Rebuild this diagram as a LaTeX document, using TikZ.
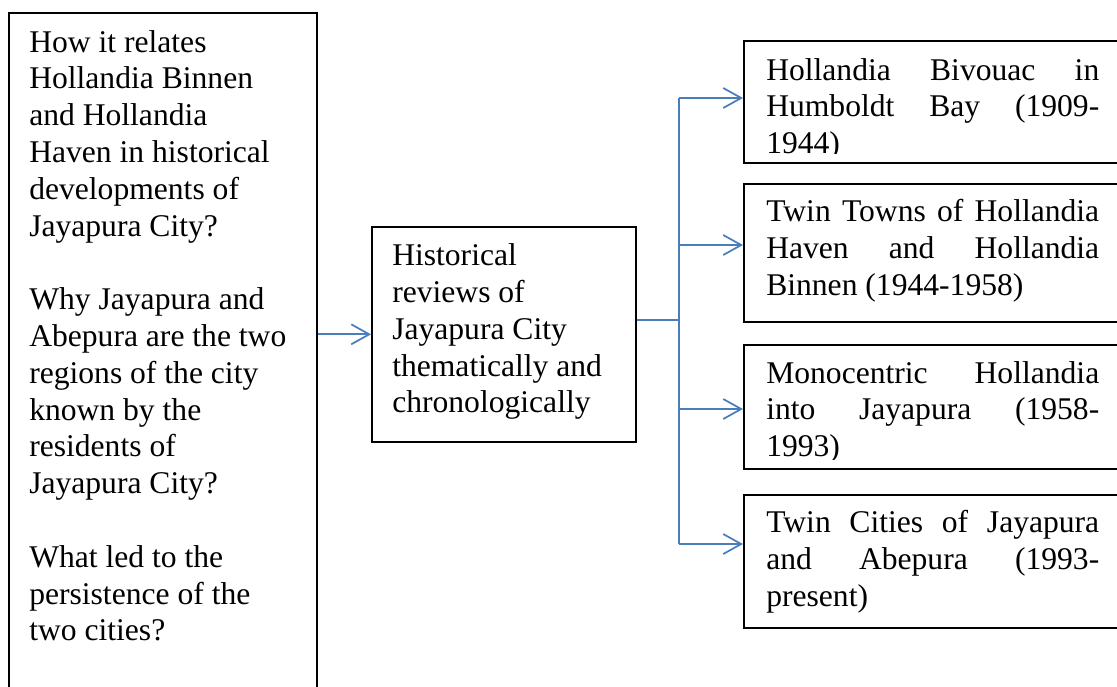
\documentclass[tikz,border=0pt]{standalone}
\usepackage{fontspec}
\setmainfont{Liberation Serif}
\usetikzlibrary{arrows.meta}

\definecolor{arrowblue}{RGB}{74,126,187}
\newcommand{\jline}[1]{\makebox[249.75pt][s]{#1}}

\tikzset{
  box/.style={draw, line width=1.2pt, anchor=north west, inner sep=0pt},
  txt/.style={anchor=base west, inner sep=0pt, font=\fontsize{23.7}{27.6}\selectfont},
  link/.style={draw=arrowblue, line width=1.3pt},
  linkarrow/.style={-{Straight Barb[length=13.5pt,width=15pt]}}
}

\begin{document}
\begin{tikzpicture}[x=0.75pt,y=-0.75pt]
    \useasboundingbox (0,0) rectangle (1117,686);
    \clip (0,0) rectangle (1117,686);

    % boxes
    \node [box, minimum width=231pt, minimum height=531pt] (ques) at (8,12) {};
    \node [box, minimum width=198pt, minimum height=161.25pt] (review) at (371,226) {};
    \node [box, minimum width=297.75pt, minimum height=91.5pt] (per1) at (743,40) {};
    \node [box, minimum width=297.75pt, minimum height=103.5pt] (per2) at (743,183) {};
    \node [box, minimum width=297.75pt, minimum height=93pt] (per3) at (743,344) {};
    \node [box, minimum width=297.75pt, minimum height=99.75pt] (per4) at (743,494) {};

    % texts
    \node [txt] (questxt) at (29,52) {\parbox[t]{220pt}{How it relates\\
        Hollandia Binnen\\ and Hollandia\\ Haven in historical\\
        developments of\\ Jayapura City?\\[27.6pt]
        Why Jayapura and\\ Abepura are the two\\ regions of the city\\
        known by the\\ residents of\\ Jayapura City?\\[27.6pt]
        What led to the\\ persistence of the\\ two cities?}};
    \node [txt] (reviewtxt) at (392,265.7) {\parbox[t]{190pt}{Historical\\
        reviews of\\ Jayapura City\\ thematically and\\ chronologically}};

    \begin{scope}
        \clip (per1.north west) rectangle ([yshift=7.5pt]per1.south east);
        \node [txt] (per1txt) at (766,80) {\parbox[t]{249.75pt}{%
            \jline{Hollandia Bivouac in}\\ \jline{Humboldt Bay (1909-}\\ 1944)}};
    \end{scope}
    \node [txt] (per2txt) at (766,221.7) {\parbox[t]{249.75pt}{%
        \jline{Twin Towns of Hollandia}\\ \jline{Haven and Hollandia}\\ Binnen (1944-1958)}};
    \begin{scope}
        \clip (per3.north west) rectangle ([yshift=7.5pt]per3.south east);
        \node [txt] (per3txt) at (766,383) {\parbox[t]{249.75pt}{%
            \jline{Monocentric Hollandia}\\ \jline{into Jayapura (1958-}\\ 1993)}};
    \end{scope}
    \node [txt] (per4txt) at (766,532.7) {\parbox[t]{249.75pt}{%
        \jline{Twin Cities of Jayapura}\\ \jline{and Abepura (1993-}\\ present)}};

    % connectors
    \draw [link, linkarrow] (ques.east |- review.west) -- (review.west);
    \coordinate (fork) at (679,320);
    \draw [link] (review.east |- fork) -- (fork);
    \foreach \n/\y in {1/98,2/245,3/409,4/544}
        \coordinate (f\n) at (679,\y);
    \draw [link] (f1) -- (f4);
    \foreach \n in {1,...,4}
        \draw [link, linkarrow] (f\n) -- (per\n.west |- f\n);
\end{tikzpicture}
\end{document}
